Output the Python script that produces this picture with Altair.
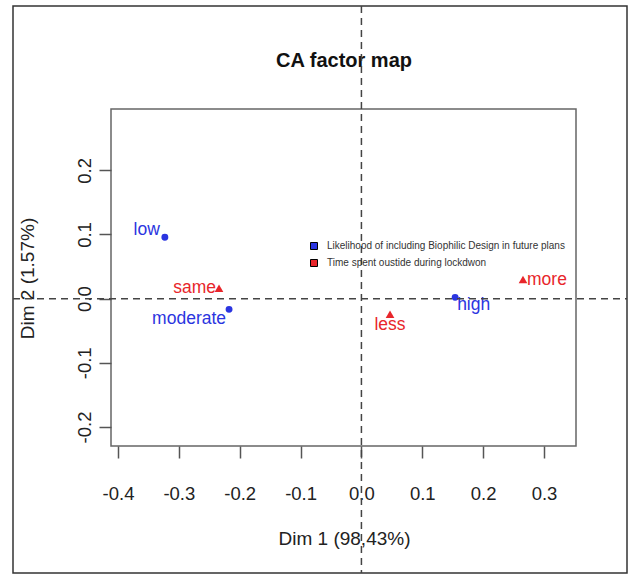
import altair as alt
import pandas as pd

# ---- data ----
categories = ["low", "moderate", "high", "same", "less", "more"]
dim1 = [-0.323, -0.2175, 0.154, -0.234, 0.047, 0.2655]
dim2 = [0.0956, -0.0167, 0.002, 0.016, -0.0245, 0.030]
group_names = [
    "Likelihood of including Biophilic Design in future plans",
    "Time spent oustide during lockdwon",
]
groups = [group_names[0]] * 3 + [group_names[1]] * 3
x_ticks = [-0.4, -0.3, -0.2, -0.1, 0.0, 0.1, 0.2, 0.3]
y_ticks = [-0.2, -0.1, 0.0, 0.1, 0.2]
title_text = "CA factor map"
x_title = "Dim 1 (98,43%)"
y_title = "Dim 2 (1.57%)"

df = pd.DataFrame({"label": categories, "dim1": dim1, "dim2": dim2, "group": groups})

FONT = "Liberation Sans"
BLUE = "#2b35e0"
RED = "#e8262b"
W, H = 465, 337

color_scale = alt.Scale(domain=group_names, range=[BLUE, RED])
xs = alt.Scale(domain=[-0.4115, 0.3526], nice=False, zero=False)
ys = alt.Scale(domain=[-0.2297, 0.2956], nice=False, zero=False)
lab_expr = "(datum.value < 0 ? '-' : '') + format(abs(datum.value), '.1f')"

x_enc = alt.X(
    "dim1:Q", scale=xs, title=x_title,
    axis=alt.Axis(values=x_ticks, labelExpr=lab_expr, domain=False, grid=False,
                  tickSize=12, tickColor="#555", tickWidth=1.5,
                  labelFont=FONT, labelFontSize=18.5, labelColor="#222", labelPadding=26,
                  titleFont=FONT, titleFontSize=19, titleFontWeight="normal", titleColor="#222",
                  titleX=233, titleY=92, titleBaseline="middle", titleAlign="center"),
)
y_enc = alt.Y(
    "dim2:Q", scale=ys, title=y_title,
    axis=alt.Axis(values=y_ticks, labelExpr=lab_expr, domain=False, grid=False,
                  tickSize=12, tickColor="#555", tickWidth=1.5,
                  labelFont=FONT, labelFontSize=18.5, labelColor="#222", labelPadding=5,
                  labelAngle=-90, labelAlign="center", labelBaseline="bottom",
                  titleFont=FONT, titleFontSize=19, titleFontWeight="normal", titleColor="#222",
                  titleX=-84, titleY=169, titleBaseline="middle", titleAlign="center", titleAngle=-90),
)

one = pd.DataFrame({"t": [title_text]})

frame = alt.Chart(one).mark_rect(fillOpacity=0, stroke="#333", strokeWidth=1.5).encode(
    x=alt.value(-98), x2=alt.value(516), y=alt.value(-103), y2=alt.value(464)
)

title = alt.Chart(one).mark_text(font=FONT, fontSize=20, fontWeight="bold", color="#111",
                                 baseline="middle", align="center").encode(
    x=alt.value(233), y=alt.value(-48), text="t:N"
)

vline = alt.Chart(one).mark_rule(color="#444", strokeWidth=1.5, strokeDash=[7, 5]).encode(
    x=alt.datum(0, scale=xs), y=alt.value(-103), y2=alt.value(464)
)
hline = alt.Chart(one).mark_rule(color="#444", strokeWidth=1.5, strokeDash=[7, 5]).encode(
    y=alt.datum(0, scale=ys), x=alt.value(-98), x2=alt.value(516)
)

base = alt.Chart(df)

legend = alt.Legend(title=None, orient="none", legendX=198, legendY=132,
                    symbolType="square", symbolSize=49,
                    symbolStrokeColor="black", symbolStrokeWidth=1,
                    labelFont=FONT, labelFontSize=10, labelColor="#333",
                    labelLimit=400, rowPadding=5, padding=0, labelOffset=8)

# point layers: circles for rows, triangles for columns
point_style = {group_names[0]: ("circle", 48), group_names[1]: ("triangle-up", 75)}
point_layers = []
for g in group_names:
    shp, sz = point_style[g]
    point_layers.append(
        base.transform_filter(alt.datum.group == g).mark_point(
            filled=True, opacity=1, shape=shp, size=sz
        ).encode(
            x=x_enc, y=y_enc,
            color=alt.Color("group:N", scale=color_scale, legend=legend),
        )
    )

# label placement (style): align, dx, dy
label_pos = {
    "low": ("right", -5, -7),
    "moderate": ("right", -3, 10),
    "high": ("left", 2, 8),
    "same": ("right", -3, 0),
    "less": ("center", 0, 11),
    "more": ("left", 4, 1),
}

label_layers = []
for cat in categories:
    a, dx, dy = label_pos[cat]
    label_layers.append(
        base.transform_filter(alt.datum.label == cat).mark_text(
            font=FONT, fontSize=17.5, align=a, dx=dx, dy=dy, baseline="middle"
        ).encode(
            x=alt.X("dim1:Q", scale=xs),
            y=alt.Y("dim2:Q", scale=ys),
            text="label:N",
            color=alt.Color("group:N", scale=color_scale, legend=None),
        )
    )

chart = alt.layer(frame, title, *point_layers, *label_layers, vline, hline).properties(
    width=W, height=H,
    autosize=alt.AutoSizeParams(type="none"),
    padding={"left": 111, "top": 109, "right": 53, "bottom": 129},
    background="white",
).configure_view(stroke="#666", strokeWidth=1.5)

chart.save("out.html", embed_options={"renderer": "svg", "actions": False})
